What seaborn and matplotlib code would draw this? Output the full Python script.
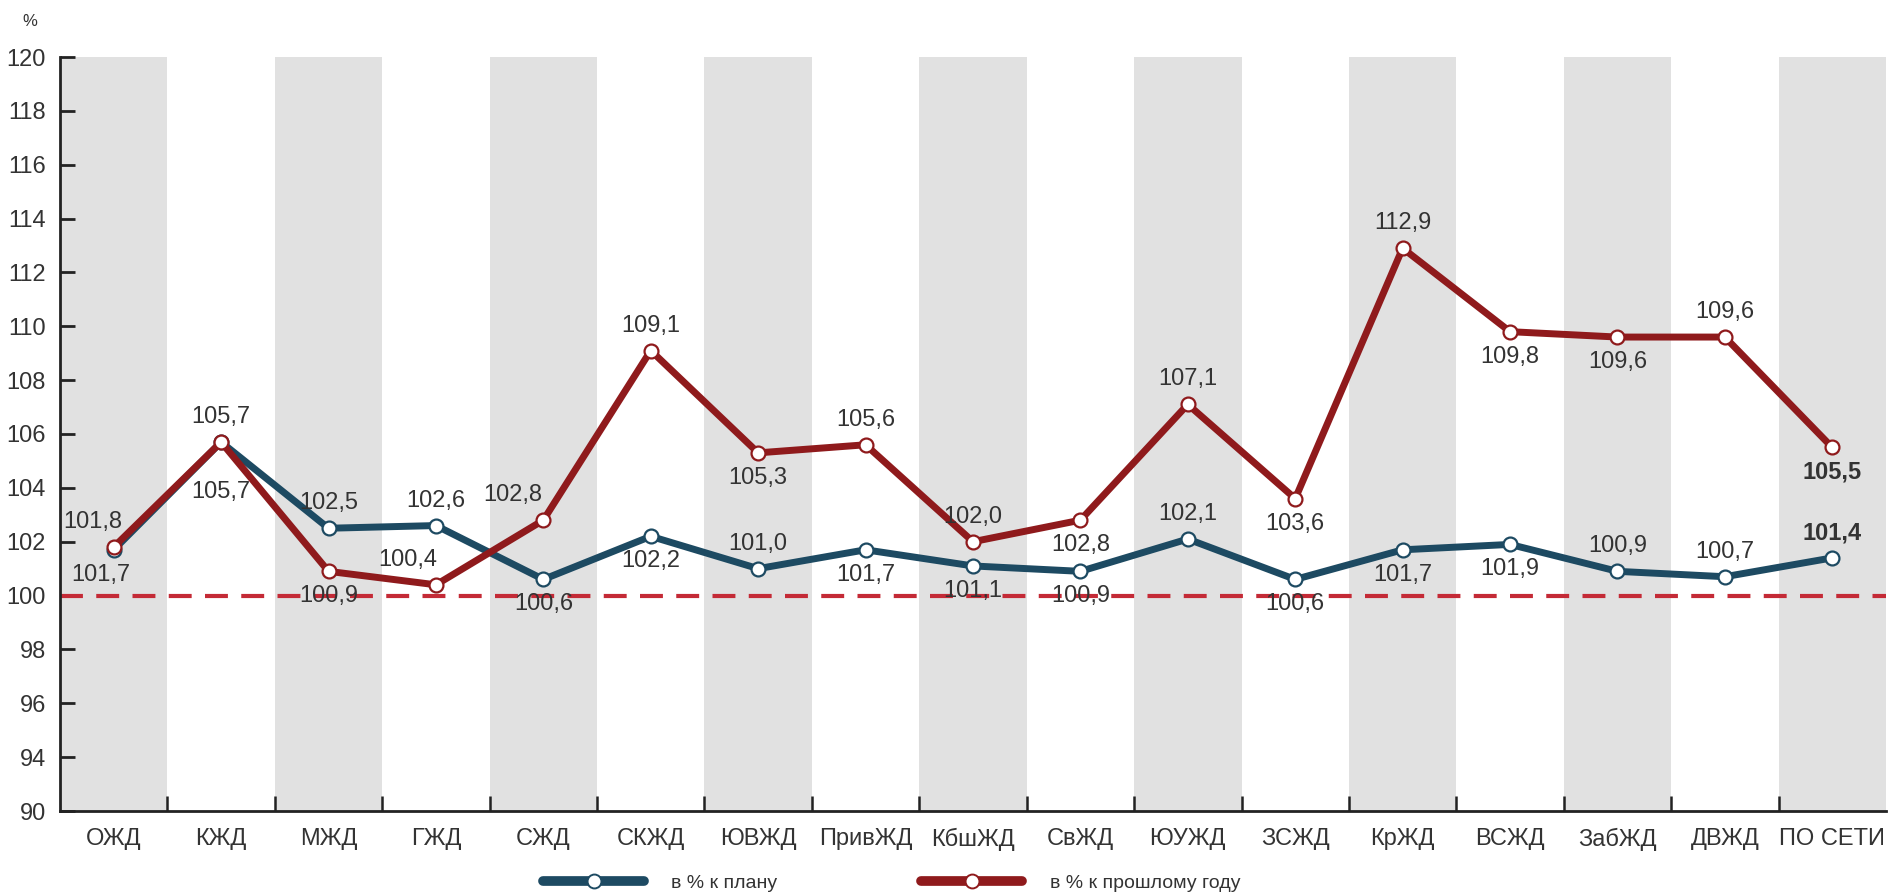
#!/usr/bin/env python3

import matplotlib
matplotlib.use('Agg')
import matplotlib.pyplot as plt     # visual plotting of data
from matplotlib.lines import Line2D
import seaborn as sns               # visual plotting of data
import pandas as pd                 # handling data

# --- data ---
roads = ['ОЖД', 'КЖД', 'МЖД', 'ГЖД', 'СЖД', 'СКЖД', 'ЮВЖД', 'ПривЖД', 'КбшЖД',
         'СвЖД', 'ЮУЖД', 'ЗСЖД', 'КрЖД', 'ВСЖД', 'ЗабЖД', 'ДВЖД', 'ПО СЕТИ']
plan_pct = [101.7, 105.7, 102.5, 102.6, 100.6, 102.2, 101.0, 101.7, 101.1,
            100.9, 102.1, 100.6, 101.7, 101.9, 100.9, 100.7, 101.4]
prev_year_pct = [101.8, 105.7, 100.9, 100.4, 102.8, 109.1, 105.3, 105.6, 102.0,
                 102.8, 107.1, 103.6, 112.9, 109.8, 109.6, 109.6, 105.5]
series_names = ['в % к плану', 'в % к прошлому году']

# label placement: +1 above the point, -1 below (multiples of the base offset)
plan_side = [-1, -2, 1, 1, -1, -1, 1, -1, -1, -1, 1, -1, -1, -1, 1, 1, 1]
prev_side = [1, 1, -1, 1, 1, 1, -1, 1, 1, -1, 1, -1, 1, -1, -1, 1, -1]
plan_dx = [-9, 0, 0, 0, 0, 0, 0, 0, 0, 0, 0, 0, 0, 0, 0, 0, 0]
prev_dx = [-15, 0, 0, -20, -22, 0, 0, 0, 0, 0, 0, 0, 0, 0, 0, 0, 0]

colors = ['#1d4a62', '#8f1a1c']
text_color = '#333333'


def fmt(v):
    return f'{v:.1f}'.replace('.', ',')


def main():
    sns.set_style('white')
    plt.rcParams['font.family'] = ['Liberation Sans', 'DejaVu Sans']

    n = len(roads)
    df = pd.DataFrame({'pos': list(range(n)) * 2,
                       'value': plan_pct + prev_year_pct,
                       'series': [series_names[0]] * n + [series_names[1]] * n})

    fig = plt.figure(figsize=(18.93, 8.94), dpi=100)
    ax = fig.add_axes([60 / 1893, 1 - 811 / 894, 1826 / 1893, 754 / 894])

    # alternating grey columns
    for i in range(0, n, 2):
        ax.axvspan(i - 0.5, i + 0.5, color='#e1e1e1', lw=0, zorder=0)

    ax.axhline(100, color='#c42a36', lw=3, dashes=(5.5, 3.2), zorder=2)

    for k, name in enumerate(series_names):
        sns.lineplot(data=df[df['series'] == name], x='pos', y='value',
                     color=colors[k], lw=5, marker='o', markersize=10,
                     markerfacecolor='white', markeredgecolor=colors[k],
                     markeredgewidth=1.6, legend=False, ax=ax, zorder=3 + k)

    # value labels
    for i in range(n):
        weight = 'bold' if i == n - 1 else 'normal'
        ax.annotate(fmt(plan_pct[i]), (i, plan_pct[i]),
                    xytext=(plan_dx[i], plan_side[i] * 18),
                    textcoords='offset points', ha='center', va='center',
                    fontsize=17, color=text_color, fontweight=weight, zorder=6)
        ax.annotate(fmt(prev_year_pct[i]), (i, prev_year_pct[i]),
                    xytext=(prev_dx[i], prev_side[i] * 18),
                    textcoords='offset points', ha='center', va='center',
                    fontsize=17, color=text_color, fontweight=weight, zorder=6)

    ax.set_xlim(-0.5, n - 0.5)
    ax.set_ylim(92, 120)
    yt = list(range(92, 121, 2))
    ax.set_yticks(yt)
    ax.set_yticklabels(['90' if t == 92 else str(t) for t in yt])
    ax.set_xticks(range(n))
    ax.set_xticklabels(roads)
    ax.set_xticks([i + 0.5 for i in range(n - 1)], minor=True)
    ax.set_xlabel('')
    ax.set_ylabel('')

    ax.tick_params(axis='y', direction='in', length=11, width=2, color='#222222',
                   labelsize=17, labelcolor=text_color, pad=10, left=True)
    ax.tick_params(axis='x', which='major', length=0, labelsize=17,
                   labelcolor=text_color, pad=12)
    ax.tick_params(axis='x', which='minor', direction='in', length=11, width=1.8,
                   color='#222222', bottom=True)

    for side in ['top', 'right']:
        ax.spines[side].set_visible(False)
    for side in ['left', 'bottom']:
        ax.spines[side].set_color('#222222')
        ax.spines[side].set_linewidth(2)

    fig.text(30 / 1893, 1 - 21 / 894, '%', fontsize=12, color=text_color,
             ha='center', va='center')

    handles = [Line2D([], [], color=c, lw=7, marker='o', markersize=10,
                      markerfacecolor='white', markeredgecolor=c, markeredgewidth=1.4)
               for c in colors]
    leg = fig.legend(handles, series_names, loc='center left',
                     bbox_to_anchor=(543 / 1893, 1 - 883 / 894), ncol=2, frameon=False,
                     fontsize=14, handlelength=5.2, handletextpad=1.4,
                     columnspacing=7.4, borderaxespad=0, borderpad=0)
    for t in leg.get_texts():
        t.set_color(text_color)

    fig.savefig('out.png', dpi=100)


if __name__ == '__main__':
    main()
